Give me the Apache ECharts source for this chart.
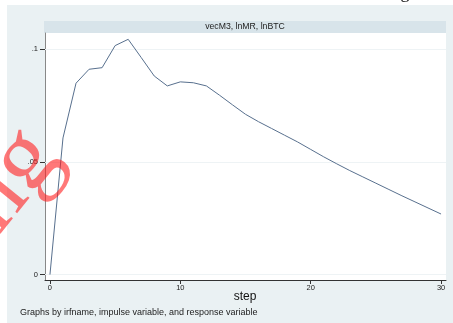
<!DOCTYPE html>
<html>
<head>
<meta charset="utf-8">
<script src="https://cdn.jsdelivr.net/npm/echarts@6/dist/echarts.min.js"></script>
<style>
  html, body { margin: 0; padding: 0; background: #ffffff; }
  #chart { width: 453px; height: 323px; }
</style>
</head>
<body>
<div id="chart"></div>
<script>
// Impulse response: vecM3, impulse lnMR, response lnBTC
const steps = [0,1,2,3,4,5,6,7,8,9,10,11,12,13,14,15,16,17,18,19,20,21,22,23,24,25,26,27,28,29,30];
const irf = [0, 0.0607, 0.085, 0.0912, 0.0919, 0.1017, 0.1045, 0.0964, 0.0882, 0.0838, 0.0856, 0.0852, 0.0838,
             0.0797, 0.0754, 0.0712, 0.0679, 0.0649, 0.0619, 0.0589, 0.0556, 0.0523, 0.0492, 0.0462, 0.0434,
             0.0406, 0.0378, 0.0350, 0.0323, 0.0296, 0.0269];
const xTicks = [0, 10, 20, 30];
const yTicks = [0, 0.05, 0.1];
const yTickLabels = ['0', '.05', '.1'];
const panelTitle = 'vecM3, lnMR, lnBTC';
const xTitle = 'step';
const note = 'Graphs by irfname, impulse variable, and response variable';

const chart = echarts.init(document.getElementById('chart'), null, { renderer: 'canvas' });
const font = 'Liberation Sans, Arial, sans-serif';

chart.setOption({
  animation: false,
  backgroundColor: '#ffffff',
  grid: { left: 45, right: 7, top: 33, bottom: 43 },
  graphic: [
    { type: 'rect', z: -10, silent: true, shape: { x: 7, y: 5, width: 446, height: 318 }, style: { fill: '#eaf1f3' } },
    { type: 'rect', z: -9, silent: true, shape: { x: 44, y: 21, width: 402, height: 12 }, style: { fill: '#d8e4ea' } },
    { type: 'rect', z: -9, silent: true, shape: { x: 45, y: 33, width: 401, height: 247 }, style: { fill: '#ffffff' } },
    { type: 'text', z: 10, silent: true, style: { text: panelTitle, x: 245, y: 27, fill: '#222', font: '8.7px ' + font, textAlign: 'center', textVerticalAlign: 'middle' } },
    { type: 'text', z: 10, silent: true, style: { text: xTitle, x: 245, y: 297, fill: '#111', font: '12px ' + font, textAlign: 'center', textVerticalAlign: 'middle' } },
    { type: 'text', z: 10, silent: true, style: { text: note, x: 20, y: 313, fill: '#222', font: '9px ' + font, textAlign: 'left', textVerticalAlign: 'middle' } },
    { type: 'text', z: 100, silent: true, x: 10, y: 180, rotation: 0.89, style: { text: 'ng', x: 0, y: 0, fill: 'rgba(255,30,30,0.6)', font: '100px Liberation Serif, DejaVu Serif, serif', textAlign: 'center', textVerticalAlign: 'middle' } },
    { type: 'text', z: 100, silent: true, style: { text: 'g', x: 405, y: -16, fill: '#111', font: '18px Liberation Serif, serif', textAlign: 'center', textVerticalAlign: 'top' } }
  ],
  xAxis: {
    type: 'value', min: -0.38, max: 30.38,
    axisLine: { show: true, onZero: false, lineStyle: { color: '#333', width: 1 } },
    axisTick: { show: true, length: 4, customValues: xTicks, lineStyle: { color: '#333' } },
    axisLabel: { customValues: xTicks, fontSize: 7.5, color: '#222', fontFamily: font, margin: 4 },
    splitLine: { show: false }
  },
  yAxis: {
    type: 'value', min: -0.0024, max: 0.1073,
    axisLine: { show: true, onZero: false, lineStyle: { color: '#888', width: 1 } },
    axisTick: { show: true, length: 5, customValues: yTicks, lineStyle: { color: '#333' } },
    axisLabel: { customValues: yTicks, fontSize: 7.5, color: '#222', fontFamily: font, margin: 7,
      formatter: v => { const i = yTicks.findIndex(t => Math.abs(t - v) < 1e-9); return i >= 0 ? yTickLabels[i] : ''; } },
    splitLine: { show: false }
  },
  series: [
    {
      type: 'line',
      data: steps.map((s, i) => [s, irf[i]]),
      showSymbol: false,
      lineStyle: { color: '#58708e', width: 1 },
      markLine: {
        silent: true, symbol: 'none', label: { show: false },
        lineStyle: { color: '#eef3f5', width: 1, type: 'solid' },
        data: yTicks.map(v => ({ yAxis: v }))
      },
      z: 5
    }
  ]
});
</script>
</body>
</html>
